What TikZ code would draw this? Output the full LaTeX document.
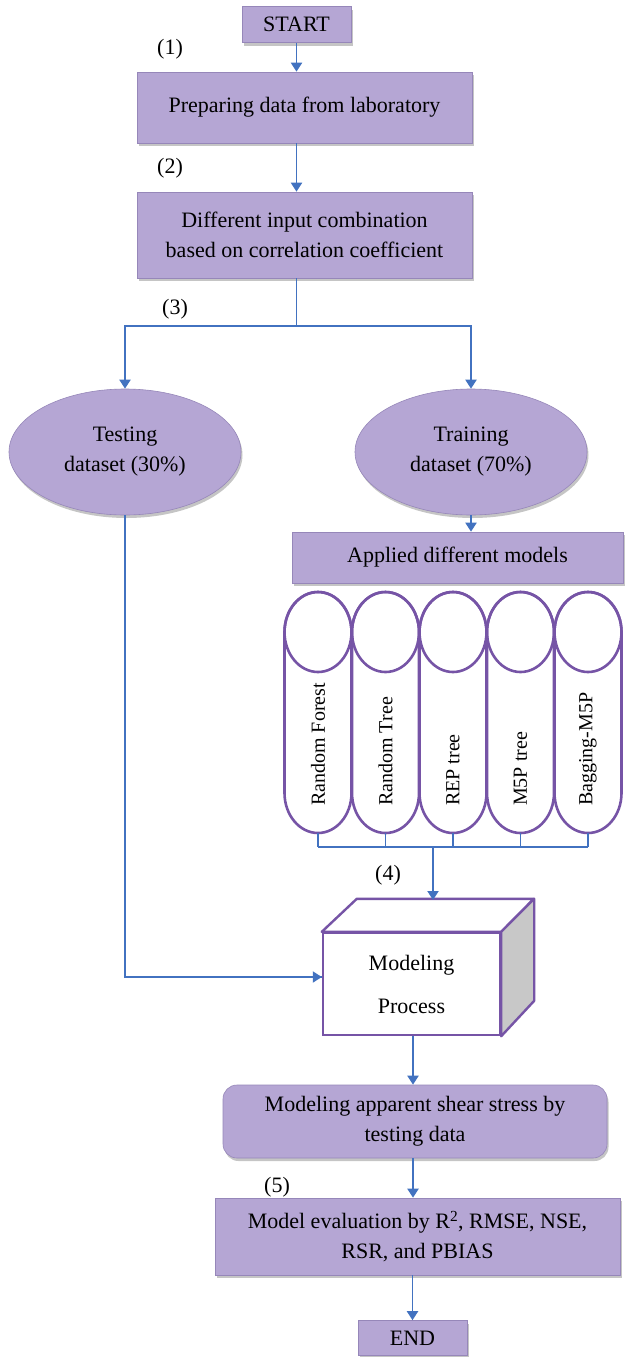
\documentclass[tikz,border=0pt]{standalone}
\usepackage{fontspec}
\setmainfont{Liberation Serif}
\usetikzlibrary{arrows.meta,shadows,shapes.geometric}
\definecolor{boxfill}{RGB}{181,166,212}
\definecolor{boxedge}{RGB}{150,135,185}
\definecolor{arrowblue}{RGB}{66,114,192}
\definecolor{pillline}{RGB}{118,84,166}
\definecolor{cubeside}{RGB}{200,200,200}
\begin{document}
\begin{tikzpicture}[x=1pt,y=-1pt,
  txt/.style={font=\fontsize{22}{30}\selectfont},
  box/.style={txt, fill=boxfill, draw=boxedge, line width=0.6pt, align=center, inner sep=0pt,
    drop shadow={opacity=0.45, shadow xshift=1.5pt, shadow yshift=-3pt}},
  oval/.style={box, ellipse},
  arr/.style={draw=arrowblue, line width=1.9pt, -{Triangle[width=11pt,length=9pt]}},
  conn/.style={draw=arrowblue, line width=1.9pt},
  pill/.style={draw=pillline, line width=2.6pt, fill=white},
  lbl/.style={txt, inner sep=0pt}
]
\useasboundingbox (0,0) rectangle (624,1357);
\fill[white] (0,0) rectangle (624,1357);

% top boxes
\node[box, minimum width=109pt, minimum height=36pt] (start) at (296.5,24.5) {START};
\node[box, minimum width=335pt, minimum height=71pt] (b1) at (304.5,107.5) {Preparing data from laboratory};
\node[box, minimum width=335pt, minimum height=86pt] (b2) at (304.5,235) {Different input combination\\based on correlation coefficient};

\node[lbl] (l1) at (170,49) {(1)};
\node[lbl] (l2) at (170,168) {(2)};
\node[lbl] (l3) at (175,309) {(3)};

\draw[arr] (start.south) -- (start.south |- b1.north);
\draw[arr] (start.south |- b1.south) -- (start.south |- b2.north);

% ellipses
\node[oval, minimum width=232pt, minimum height=126pt] (test) at (125,452) {Testing\\dataset (30\%)};
\node[oval, minimum width=232pt, minimum height=126pt] (train) at (471,452) {Training\\dataset (70\%)};

\coordinate (split) at (296.5,326);
\draw[conn] (start.south |- b2.south) -- (split);
\draw[arr] (split) -| (test.north);
\draw[arr] (split) -| (train.north);

% applied
\node[box, minimum width=331pt, minimum height=51pt] (applied) at (457.5,557.5) {Applied different models};
\draw[arr] (train.south) -- (train.south |- applied.north);

% pills
\foreach \i/\name in {0/Random Forest,1/Random Tree,2/REP tree,3/M5P tree,4/Bagging-M5P}{
  \pgfmathsetmacro{\cx}{318+67.5*\i}
  \draw[pill] (\cx-33.5,632) -- (\cx-33.5,793) arc[start angle=180,end angle=360,x radius=33.5pt,y radius=40pt]
     -- (\cx+33.5,632) arc[start angle=0,end angle=180,x radius=33.5pt,y radius=40pt] -- cycle;
  \draw[draw=pillline, line width=2.6pt] (\cx,632) ellipse[x radius=33.5pt, y radius=40pt];
  \node[txt, rotate=90, anchor=west, font=\fontsize{20}{24}\selectfont, inner sep=0pt] (p\i) at (\cx,806) {\name};
  \coordinate (pb\i) at (\cx,833);
  \draw[conn, line width=1.4pt] (pb\i) -- (\cx,847);
}
\draw[conn, line width=1.4pt] (318,847) -- (588,847);
\coordinate (join) at (433,847);

% cube
\node[txt, draw=pillline, line width=2.4pt, fill=white, minimum width=177pt, minimum height=102pt, align=center,
  font=\fontsize{22}{43}\selectfont] (cube) at (411.5,984) {Modeling\\Process};
\draw[draw=pillline, line width=2.4pt, fill=white, line join=round] (cube.north west) -- ++(35,-33) -- ++(177,0) -- (cube.north east) -- cycle;
\draw[draw=pillline, line width=2.4pt, fill=cubeside, line join=round] (cube.north east) -- ++(33,-33) -- ++(0,102) -- (cube.south east) -- cycle;
\coordinate (cubetop) at (433,900);
\draw[arr] (join) -- (cubetop);
\node[lbl] (l4) at (388,875) {(4)};

\draw[conn] (test.south) |- ([yshift=7pt]cube.west);
\draw[arr] ([yshift=7pt]cube.west) ++(-60,0) -- ([yshift=7pt]cube.west);

% bottom
\node[box, rounded corners=14pt, minimum width=384pt, minimum height=73pt] (shear) at (415,1121.5) {Modeling apparent shear stress by\\testing data};
\node[box, minimum width=405pt, minimum height=77pt] (eval) at (417.5,1236.5) {Model evaluation by R\textsuperscript{2}, RMSE, NSE,\\RSR, and PBIAS};
\node[box, minimum width=109pt, minimum height=35pt] (end) at (412.5,1338) {END};
\node[lbl] (l5) at (277,1187) {(5)};

\draw[arr] (cube.south -| shear.north) ++(-2,0) coordinate (cs) (cs) -- (cs |- shear.north);
\draw[arr] (413,1158) coordinate (ss) (ss) -- (ss |- eval.north);
\draw[arr] (eval.south -| end.north) -- (end.north);
\end{tikzpicture}
\end{document}
